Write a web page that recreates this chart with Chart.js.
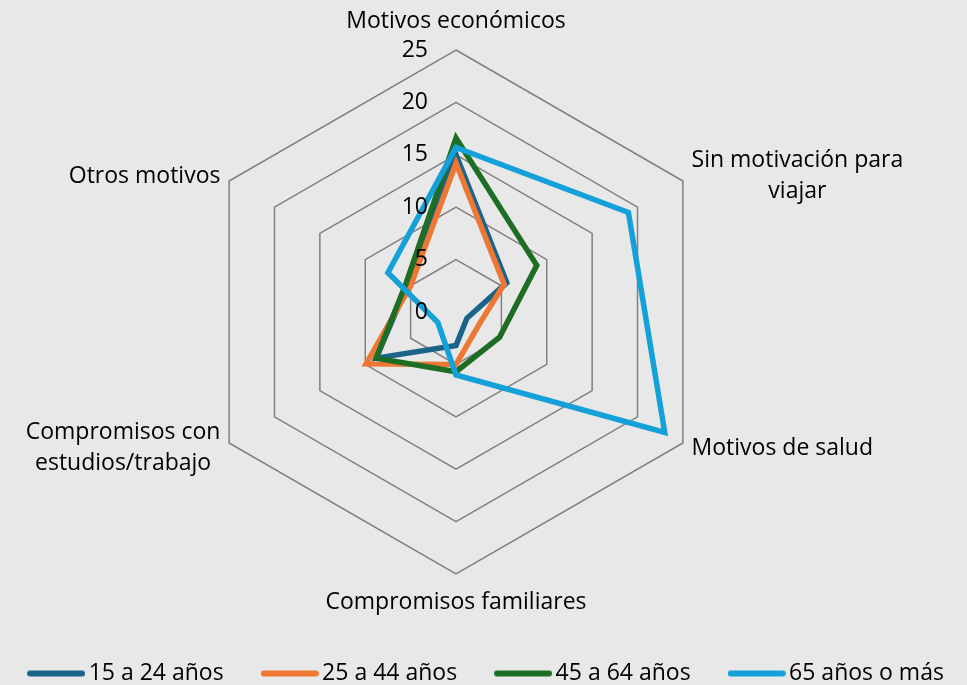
<!DOCTYPE html>
<html lang="es">
<head>
<meta charset="utf-8">
<title>Motivos para no viajar por edad</title>
<script src="https://cdn.jsdelivr.net/npm/chart.js@4.4.1/dist/chart.umd.min.js"></script>
<style>
    html, body { margin: 0; padding: 0; background: #e8e8e8; }
    #radar { display: block; }
</style>
</head>
<body>
<canvas id="radar" width="967" height="685"></canvas>
<script>
// categorias (ejes)
const categorias = [
    'Motivos económicos',
    ['Sin motivación para', 'viajar'],
    'Motivos de salud',
    'Compromisos familiares',
    ['Compromisos con', 'estudios/trabajo'],
    'Otros motivos'
];
// series por grupo de edad
const edad15a24 = [15.0, 5.6, 1.2, 3.2, 8.8, 5.3];
const edad25a44 = [14.2, 5.3, 2.5, 5.0, 9.9, 5.0];
const edad45a64 = [16.6, 8.9, 4.8, 5.7, 8.8, 5.5];
const edad65mas = [15.7, 19.0, 23.0, 6.0, 2.0, 7.5];
// eje
const ticksEje = [0, 5, 10, 15, 20, 25];

const FUENTE = '"Open Sans", "DejaVu Sans", sans-serif';

// etiquetas de los ejes y de la escala, dibujadas a mano
const etiquetas = {
    id: 'etiquetas',
    afterDraw(chart) {
        const s = chart.scales.r;
        const ctx = chart.ctx;
        ctx.save();
        ctx.fillStyle = '#000';
        ctx.font = '23px ' + FUENTE;
        ctx.textBaseline = 'middle';

        // numeros de la escala (a la izquierda del eje vertical)
        ctx.textAlign = 'right';
        ticksEje.forEach(v => {
            const d = s.getDistanceFromCenterForValue(v);
            ctx.fillText(String(v), s.xCenter - 28, s.yCenter - d);
        });

        // nombres de las categorias
        const alto = 31;
        chart.data.labels.forEach((lab, i) => {
            const lineas = Array.isArray(lab) ? lab : [lab];
            const p = s.getPointPosition(i, s.drawingArea + 10);
            const dx = p.x - s.xCenter;
            const anchoMax = Math.max(...lineas.map(t => ctx.measureText(t).width));
            let cx, cy;
            if (Math.abs(dx) < 1) {
                cx = p.x;
                cy = p.y < s.yCenter ? p.y - 19 : p.y + 18;
            } else if (dx > 0) {
                cx = p.x + anchoMax / 2;
                cy = p.y;
            } else {
                cx = p.x - anchoMax / 2;
                cy = p.y;
            }
            ctx.textAlign = 'center';
            const y0 = cy - (lineas.length - 1) * alto / 2;
            lineas.forEach((t, k) => ctx.fillText(t, cx, y0 + k * alto));
        });
        ctx.restore();
    }
};

// muestra de linea para la leyenda (un poco mas larga que la caja)
function muestra(color) {
    const c = document.createElement('canvas');
    c.width = 58;
    c.height = 8;
    const g = c.getContext('2d');
    g.strokeStyle = color;
    g.lineWidth = 6;
    g.lineCap = 'round';
    g.beginPath();
    g.moveTo(3, 4);
    g.lineTo(55, 4);
    g.stroke();
    return c;
}

const serie = (nombre, datos, color, orden) => ({
    label: nombre,
    data: datos,
    borderColor: color,
    backgroundColor: color,
    borderWidth: 5.5,
    borderJoinStyle: 'miter',
    fill: false,
    pointRadius: 0,
    pointHoverRadius: 0,
    pointStyle: muestra(color),
    order: orden,
    clip: false
});

new Chart(document.getElementById('radar'), {
    type: 'radar',
    data: {
        labels: categorias,
        datasets: [
            serie('15 a 24 años', edad15a24, '#1a6389', 3),
            serie('25 a 44 años', edad25a44, '#ed7733', 2),
            serie('45 a 64 años', edad45a64, '#1d6d24', 1),
            serie('65 años o más', edad65mas, '#14a0d8', 0)
        ]
    },
    options: {
        responsive: false,
        animation: false,
        // margen negativo para que la leyenda quepa en una fila
        layout: { padding: { top: 0, left: -34, right: -46, bottom: -10 } },
        plugins: {
            tooltip: { enabled: false },
            legend: {
                position: 'bottom',
                labels: {
                    usePointStyle: true,
                    pointStyleWidth: 42,
                    padding: 45,
                    color: '#000',
                    font: { family: FUENTE, size: 23 },
                    sort: (a, b) => a.datasetIndex - b.datasetIndex
                }
            }
        },
        scales: {
            r: {
                min: 0,
                max: 25,
                ticks: { stepSize: 5, display: false },
                grid: { color: '#808080', lineWidth: 1.5 },
                angleLines: { display: false },
                pointLabels: { display: false },
                // centro y radio como en el original
                afterFit(scale) {
                    scale.xCenter = 456;
                    scale.yCenter = 312;
                    scale.drawingArea = 262;
                }
            }
        }
    },
    plugins: [etiquetas]
});
</script>
</body>
</html>
